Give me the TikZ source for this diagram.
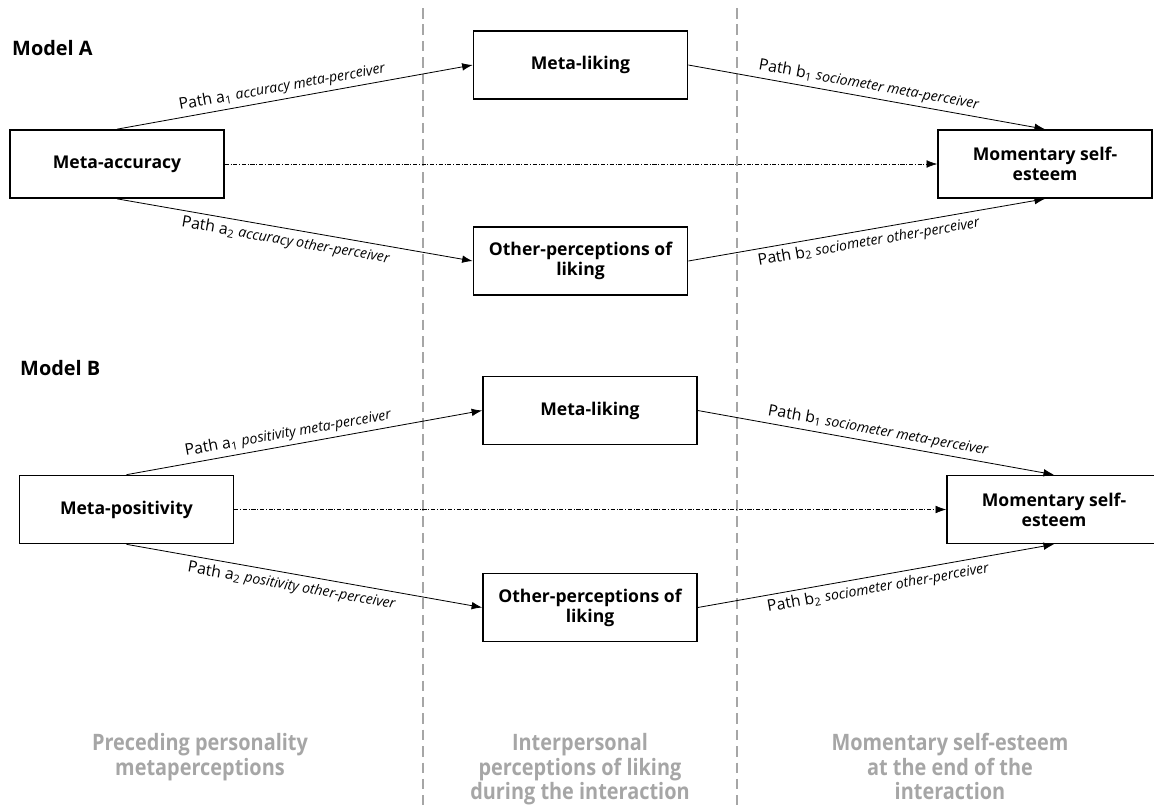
\documentclass[tikz,border=0pt]{standalone}
\usepackage{fontspec}
\setmainfont{Open Sans}
\newfontfamily\colfont[FakeStretch=0.88]{Open Sans}
\usetikzlibrary{arrows.meta}

\begin{document}
\begin{tikzpicture}[x=0.03cm, y=-0.03cm,
        box/.style={draw, line width=1.4pt, minimum width=6.42cm, minimum height=2.04cm, align=center, inner sep=2pt, font=\fontsize{15}{17}\selectfont\bfseries},
        title/.style={font=\fontsize{17}{19}\selectfont\bfseries, anchor=west, inner sep=0pt},
        arr/.style={-{Latex[length=9pt,width=6.5pt]}, line width=0.7pt},
        direct/.style={-{Latex[length=9pt,width=6.5pt]}, line width=0.5pt, dash pattern=on 3.5pt off 1.5pt on 0.8pt off 1.5pt},
        lbl/.style={sloped, inner sep=3.5pt, font=\fontsize{13.5}{15}\selectfont},
        divider/.style={gray!70, line width=1.1pt, dash pattern=on 9pt off 5pt},
        col/.style={anchor=north, align=center, inner sep=0pt, text=black!35, font=\colfont\fontsize{19.3}{21}\selectfont\bfseries}
    ]
    \useasboundingbox (0,0) rectangle (1154,805);

    % Column dividers
    \draw[divider] (423,8) -- (423,805);
    \draw[divider] (737,8) -- (737,805);

    % Model A
    \node[title] (titleA) at (12,48) {Model A};
    \node[box] (accA) at (117,164) {Meta-accuracy};
    \node[box] (likA) at (580.5,65) {Meta-liking};
    \node[box] (othA) at (580.5,261) {Other-perceptions of\\liking};
    \node[box] (momA) at (1045,164) {Momentary self-\\esteem};

    \draw[arr] (accA.north) -- node[lbl, above, pos=.47] {Path a\textsubscript{1} {\fontsize{12}{14}\selectfont\itshape accuracy meta-perceiver}} (likA.west);
    \draw[arr] (accA.south) -- node[lbl, below, pos=.48] {Path a\textsubscript{2} {\fontsize{12}{14}\selectfont\itshape accuracy other-perceiver}} (othA.west);
    \draw[arr] (likA.east) -- node[lbl, above, pos=.5] {Path b\textsubscript{1} {\fontsize{12}{14}\selectfont\itshape sociometer meta-perceiver}} (momA.north);
    \draw[arr] (othA.east) -- node[lbl, below, pos=.5] {Path b\textsubscript{2} {\fontsize{12}{14}\selectfont\itshape sociometer other-perceiver}} (momA.south);
    \draw[direct] (accA) -- (momA);

    % Model B
    \node[title] (titleB) at (20,368) {Model B};
    \node[box] (accB) at (126.5,509.5) {Meta-positivity};
    \node[box] (likB) at (590,410.5) {Meta-liking};
    \node[box] (othB) at (590,607.5) {Other-perceptions of\\liking};
    \node[box] (momB) at (1054,509.5) {Momentary self-\\esteem};

    \draw[arr] (accB.north) -- node[lbl, above, pos=.46] {Path a\textsubscript{1} {\fontsize{12}{14}\selectfont\itshape positivity meta-perceiver}} (likB.west);
    \draw[arr] (accB.south) -- node[lbl, below, pos=.47] {Path a\textsubscript{2} {\fontsize{12}{14}\selectfont\itshape positivity other-perceiver}} (othB.west);
    \draw[arr] (likB.east) -- node[lbl, above, pos=.5] {Path b\textsubscript{1} {\fontsize{12}{14}\selectfont\itshape sociometer meta-perceiver}} (momB.north);
    \draw[arr] (othB.east) -- node[lbl, below, pos=.5] {Path b\textsubscript{2} {\fontsize{12}{14}\selectfont\itshape sociometer other-perceiver}} (momB.south);
    \draw[direct] (accB) -- (momB);

    % Column captions
    \node[col] (colPre) at (200,733) {Preceding personality\\metaperceptions};
    \node[col] (colInt) at (580,733) {Interpersonal\\perceptions of liking\\during the interaction};
    \node[col] (colMom) at (950,733) {Momentary self-esteem\\at the end of the\\interaction};

\end{tikzpicture}
\end{document}
